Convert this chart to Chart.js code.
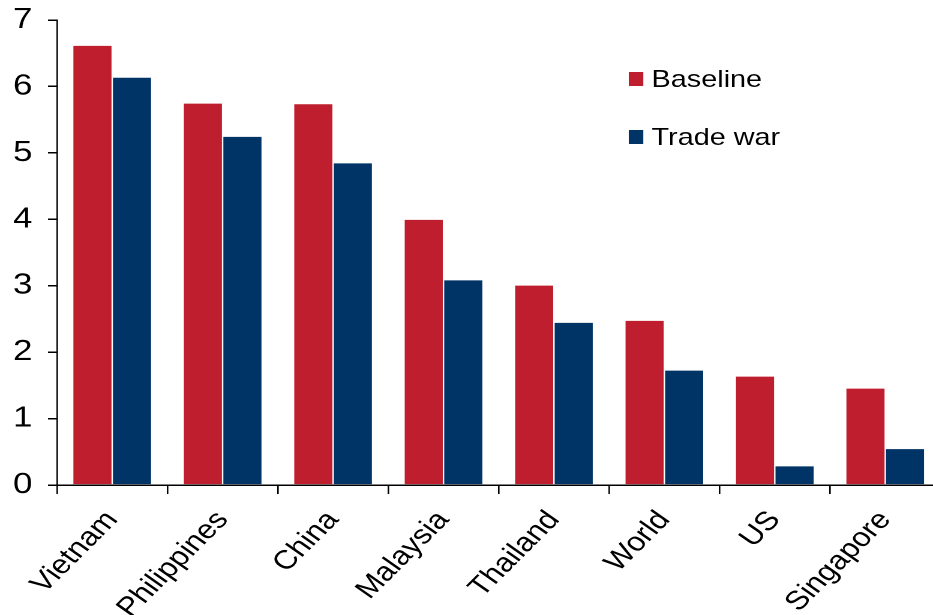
<!DOCTYPE html>
<html>
<head>
<meta charset="utf-8">
<script src="https://cdn.jsdelivr.net/npm/chart.js@4"></script>
<style>
  html, body { margin: 0; padding: 0; background: #fff; overflow: hidden; }
  #wrap { position: relative; width: 933px; height: 615px; overflow: hidden; }
  /* the chart is laid out narrow, then widened 1.2x so that text and bars get the wide look */
  #stage { position: absolute; left: 0; top: 0; width: 792px; height: 615px; transform: scaleX(1.2); transform-origin: 0 0; }
  #c { position: absolute; left: 0; top: 0; }
  .legend { position: absolute; left: 524px; height: 24px; line-height: 24px; font-family: "Liberation Sans", Arial, sans-serif; font-size: 24px; color: #000; display: flex; align-items: center; white-space: nowrap; }
  .legend span.sw { display: inline-block; width: 12px; height: 14px; margin-right: 7px; }
</style>
</head>
<body>
<div id="wrap">
  <div id="stage">
    <canvas id="c" width="792" height="615" style="width:792px;height:615px"></canvas>
    <div class="legend" style="top:67px"><span class="sw" style="background:#BE1E2D"></span>Baseline</div>
    <div class="legend" style="top:125px"><span class="sw" style="background:#003366"></span>Trade war</div>
  </div>
</div>
<script>
const categories = ["Vietnam", "Philippines", "China", "Malaysia", "Thailand", "World", "US", "Singapore"];
const baseline = [6.62, 5.75, 5.74, 4.00, 3.01, 2.48, 1.64, 1.46];
const tradeWar = [6.14, 5.25, 4.85, 3.09, 2.45, 1.73, 0.29, 0.55];
const yTicks = [0, 1, 2, 3, 4, 5, 6, 7];

const FONT = "'Liberation Sans', Arial, sans-serif";

new Chart(document.getElementById('c'), {
  type: 'bar',
  data: {
    labels: categories,
    datasets: [
      { label: 'Baseline', data: baseline, backgroundColor: '#BE1E2D', borderColor: 'rgba(255,255,255,0.25)', borderWidth: 0.6 },
      { label: 'Trade war', data: tradeWar, backgroundColor: '#003366', borderColor: 'rgba(255,255,255,0.25)', borderWidth: 0.6 }
    ]
  },
  options: {
    responsive: false,
    animation: false,
    devicePixelRatio: 2,
    layout: { padding: { top: 20, right: 8.3, left: 0, bottom: 0 } },
    plugins: { legend: { display: false }, tooltip: { enabled: false } },
    datasets: { bar: { categoryPercentage: 0.716, barPercentage: 1.0 } },
    scales: {
      x: {
        grid: { display: true, drawOnChartArea: false, drawTicks: true, tickLength: 9, color: '#000', lineWidth: 1.3, offset: true },
        border: { display: true, color: '#000', width: 1.5 },
        ticks: { color: '#000', font: { family: FONT, size: 26.5 }, minRotation: 50, maxRotation: 50, padding: 11, autoSkip: false },
        afterFit: (s) => { s.height = 130; s.paddingLeft = 0; s.paddingRight = 0; }
      },
      y: {
        min: 0, max: 7,
        afterBuildTicks: (s) => { s.ticks = yTicks.map(v => ({ value: v })); },
        grid: { display: true, drawOnChartArea: false, drawTicks: true, tickLength: 7.5, color: '#000', lineWidth: 1.5 },
        border: { display: true, color: '#000', width: 1.3 },
        ticks: { color: '#000', font: { family: FONT, size: 29 }, padding: 13 },
        afterFit: (s) => { s.width = 47.5; s.paddingTop = 0; s.paddingBottom = 0; }
      }
    }
  }
});
</script>
</body>
</html>
